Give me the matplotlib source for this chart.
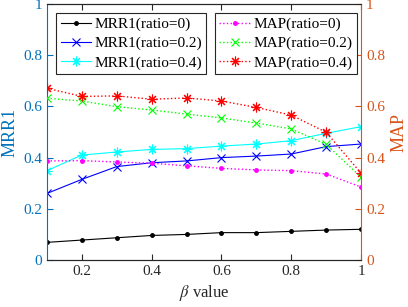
import matplotlib
matplotlib.use("Agg")
import matplotlib.pyplot as plt

beta = [0.1, 0.2, 0.3, 0.4, 0.5, 0.6, 0.7, 0.8, 0.9, 1.0]
mrr_r0 = [0.069, 0.078, 0.087, 0.096, 0.100, 0.107, 0.107, 0.112, 0.117, 0.120]
mrr_r02 = [0.260, 0.315, 0.365, 0.380, 0.387, 0.400, 0.406, 0.414, 0.443, 0.453]
mrr_r04 = [0.349, 0.410, 0.422, 0.432, 0.435, 0.445, 0.453, 0.466, 0.495, 0.521]
map_r0 = [0.387, 0.388, 0.383, 0.378, 0.368, 0.358, 0.352, 0.349, 0.336, 0.285]
map_r02 = [0.632, 0.621, 0.599, 0.586, 0.570, 0.555, 0.535, 0.512, 0.452, 0.323]
map_r04 = [0.671, 0.639, 0.641, 0.628, 0.633, 0.621, 0.596, 0.566, 0.499, 0.339]
xticks = [0.2, 0.4, 0.6, 0.8, 1.0]
xticklabels = ["0.2", "0.4", "0.6", "0.8", "1"]
yticks = [0, 0.2, 0.4, 0.6, 0.8, 1.0]
yticklabels = ["0", "0.2", "0.4", "0.6", "0.8", "1"]

plt.rcParams['font.family'] = ['Liberation Serif', 'DejaVu Serif']
plt.rcParams['mathtext.fontset'] = 'stix'

lc = (0.0, 0.447, 0.741)
rc = (0.85, 0.325, 0.098)
ast = (8, 2, 0)

fig = plt.figure(figsize=(4.08, 3.07), dpi=100)
ax = fig.add_axes([0.115, 0.153, 0.770, 0.834])
ax2 = ax.twinx()

l1, = ax.plot(beta, mrr_r0, '-', color='k', marker='.', ms=5, lw=0.8, label='MRR1(ratio=0)')
l2, = ax.plot(beta, mrr_r02, '-', color='b', marker='x', ms=6, mew=0.8, lw=0.8, label='MRR1(ratio=0.2)')
l3, = ax.plot(beta, mrr_r04, '-', color='cyan', marker=ast, ms=7, mew=0.8, lw=0.8, label='MRR1(ratio=0.4)')
m1, = ax2.plot(beta, map_r0, ':', color='magenta', marker='.', ms=5, lw=1, label='MAP(ratio=0)')
m2, = ax2.plot(beta, map_r02, ':', color='lime', marker='x', ms=6, mew=0.8, lw=1, label='MAP(ratio=0.2)')
m3, = ax2.plot(beta, map_r04, ':', color='red', marker=ast, ms=7, mew=0.8, lw=1, label='MAP(ratio=0.4)')

for a in (ax, ax2):
    a.set_xlim(0.1, 1.0)
    a.set_ylim(0, 1)
    a.set_yticks(yticks)
    a.set_yticklabels(yticklabels)

ax.set_xticks(xticks)
ax.set_xticklabels(xticklabels)
ax.tick_params(axis='x', direction='in', top=True, labelsize=11, length=4, colors='#262626')
ax.tick_params(axis='y', direction='in', labelsize=11, colors=lc, length=4)
ax2.tick_params(axis='y', direction='in', labelsize=11, colors=rc, length=4)

ax.spines['left'].set_color(lc)
ax.spines['right'].set_visible(False)
ax2.spines['right'].set_color(rc)
ax2.spines['left'].set_visible(False)
for a in (ax, ax2):
    a.spines['top'].set_color('#262626')
    a.spines['bottom'].set_color('#262626')
    for s in a.spines.values():
        s.set_linewidth(0.8)

ax.set_ylabel('MRR1', color=lc, fontsize=13, labelpad=3)
ax2.set_ylabel('MAP', color=rc, fontsize=13, labelpad=4)
ax.set_xlabel(r'$\beta$ value', fontsize=12, color='#262626', labelpad=4)

common = dict(fontsize=11, frameon=True, fancybox=False, edgecolor='#262626', framealpha=1,
              borderpad=0.3, labelspacing=0.35, handlelength=2.0, handletextpad=0.2, borderaxespad=0)
leg1 = ax2.legend(handles=[l1, l2, l3], loc='upper left', bbox_to_anchor=(0.029, 0.966), **common)
leg1.get_frame().set_linewidth(0.8)
ax2.add_artist(leg1)
leg2 = ax2.legend(handles=[m1, m2, m3], loc='upper right', bbox_to_anchor=(0.986, 0.966), **common)
leg2.get_frame().set_linewidth(0.8)

fig.savefig('out.png', dpi=100)
